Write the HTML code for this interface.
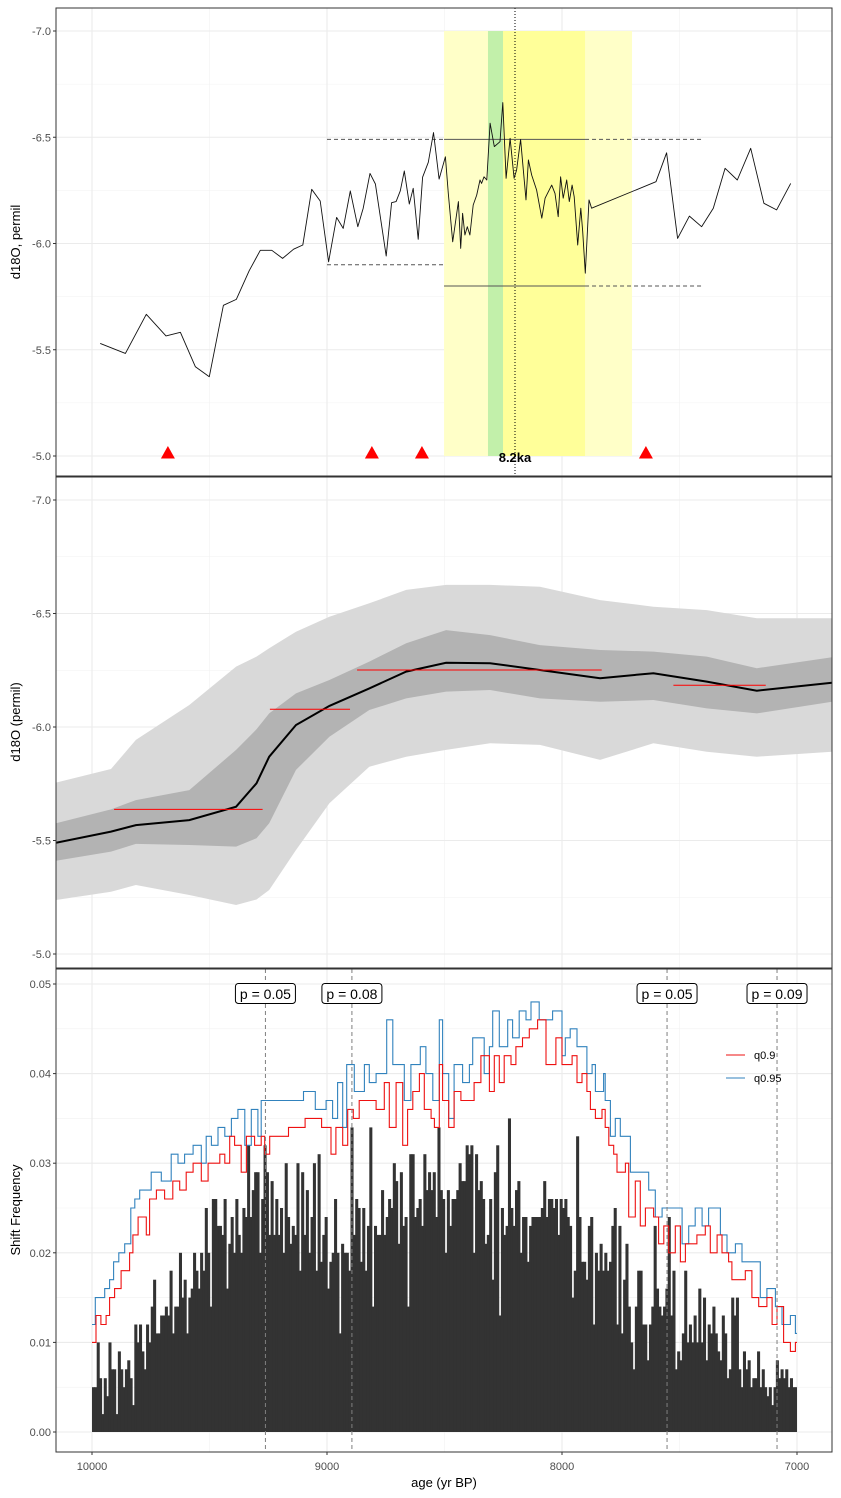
<!DOCTYPE html>
<html><head><meta charset="utf-8">
<style>
html,body{margin:0;padding:0;background:#fff;}
svg{display:block;font-family:"Liberation Sans",Arial,sans-serif;}
</style></head>
<body>
<svg id="chart" width="841" height="1498" viewBox="0 0 841 1498" xmlns="http://www.w3.org/2000/svg"></svg>
<script>
// ---------- data ----------
const p1Age = [9965,9858,9769,9685,9624,9560,9501,9441,9386,9331,9284,9235,9189,9142,9103,9065,9029,8993,8959,8931,8901,8869,8846,8817,8794,8748,8725,8706,8688,8671,8650,8633,8612,8593,8569,8547,8523,8496,8484,8465,8441,8431,8423,8413,8403,8392,8378,8363,8349,8342,8332,8320,8306,8288,8264,8252,8238,8221,8204,8193,8176,8153,8143,8129,8108,8086,8072,8044,8030,8016,8006,7995,7980,7969,7957,7948,7933,7920,7912,7901,7885,7874,7600,7555,7508,7458,7406,7356,7306,7254,7197,7141,7087,7027];
const p1Val = [-5.530,-5.483,-5.667,-5.565,-5.582,-5.420,-5.373,-5.709,-5.737,-5.872,-5.968,-5.968,-5.930,-5.973,-5.993,-6.255,-6.200,-5.914,-6.123,-6.071,-6.247,-6.079,-6.166,-6.330,-6.280,-5.941,-6.192,-6.197,-6.248,-6.341,-6.186,-6.260,-6.020,-6.312,-6.382,-6.522,-6.303,-6.408,-6.236,-6.008,-6.197,-5.977,-6.142,-6.040,-6.079,-6.040,-6.181,-6.228,-6.299,-6.283,-6.314,-6.299,-6.566,-6.456,-6.479,-6.663,-6.307,-6.495,-6.307,-6.346,-6.490,-6.205,-6.393,-6.322,-6.252,-6.119,-6.213,-6.275,-6.236,-6.126,-6.314,-6.213,-6.299,-6.197,-6.275,-6.220,-5.993,-6.166,-6.056,-5.860,-6.205,-6.166,-6.291,-6.427,-6.024,-6.129,-6.079,-6.166,-6.354,-6.299,-6.448,-6.189,-6.158,-6.283];
const eventAges = [9677,8809,8596,7643];
const p2Age = [10153,9919,9813,9586,9387,9300,9246,9132,8990,8820,8663,8493,8306,8094,7838,7611,7384,7171,6851];
const p2LightHi = [-5.755,-5.815,-5.943,-6.097,-6.266,-6.310,-6.347,-6.420,-6.486,-6.545,-6.604,-6.626,-6.626,-6.618,-6.559,-6.530,-6.515,-6.479,-6.479];
const p2DarkHi = [-5.576,-5.637,-5.678,-5.722,-5.899,-5.990,-6.060,-6.148,-6.207,-6.288,-6.369,-6.427,-6.405,-6.361,-6.339,-6.332,-6.310,-6.259,-6.307];
const p2Median = [-5.490,-5.539,-5.568,-5.590,-5.649,-5.752,-5.869,-6.009,-6.093,-6.170,-6.244,-6.283,-6.281,-6.251,-6.215,-6.237,-6.200,-6.160,-6.195];
const p2DarkLo = [-5.411,-5.451,-5.485,-5.480,-5.473,-5.510,-5.576,-5.811,-5.957,-6.075,-6.126,-6.156,-6.163,-6.126,-6.111,-6.119,-6.082,-6.060,-6.111];
const p2LightLo = [-5.238,-5.274,-5.304,-5.260,-5.216,-5.240,-5.282,-5.458,-5.664,-5.825,-5.869,-5.899,-5.928,-5.921,-5.855,-5.928,-5.891,-5.869,-5.891];
const segStart = [9906,9243,8872,7526];
const segEnd = [9274,8902,7831,7133];
const segVal = [-5.637,-6.078,-6.251,-6.184];
const shiftCounts = [5,5,10,6,2,6,4,10,7,7, 2,9,7,5,7,8,6,3,12,10, 12,9,7,12,10,14,17,11,11,13, 13,14,13,18,11,14,14,20,15,17, 11,15,16,20,18,16,20,18,25,20, 14,26,26,23,23,22,26,16,21,24, 20,26,22,20,25,24,32,24,27,29, 29,20,26,32,29,22,28,22,26,22, 25,20,30,24,21,23,22,30,18,29, 22,27,20,24,30,18,31,19,22,24, 16,19,20,26,20,11,21,20,20,18, 34,22,26,25,19,25,18,23,34,14, 23,22,22,27,22,24,26,25,30,28, 21,29,23,24,14,31,31,24,25,26, 23,31,27,29,27,29,24,34,27,26, 20,27,23,26,26,27,30,28,28,32, 31,32,20,31,27,28,26,21,22,26, 17,29,32,13,25,22,23,35,25,23, 27,28,20,24,24,19,23,24,24,24, 24,25,28,24,26,26,25,26,22,26, 25,26,24,23,15,18,33,24,19,19, 17,23,24,12,20,18,21,18,20,18, 19,23,25,12,23,11,17,21,14,10, 7,14,18,18,12,12,8,12,14,23, 16,14,13,14,16,24,13,18,7,9, 8,11,18,10,12,10,13,10,16,10, 15,8,12,11,14,11,9,8,13,11, 6,7,15,13,15,7,5,9,7,8, 5,6,6,9,5,7,5,4,5,3, 5,8,6,7,6,7,5,6,5,5];
const q95Age = [10000,9986,9946,9925,9908,9886,9861,9835,9818,9797,9748,9705,9663,9634,9606,9570,9535,9514,9492,9464,9435,9407,9379,9350,9322,9294,9280,9200,9100,9050,9004,8976,8955,8933,8916,8884,8841,8820,8791,8746,8720,8671,8643,8603,8579,8550,8522,8508,8482,8459,8423,8394,8380,8331,8309,8295,8267,8231,8210,8182,8153,8132,8097,8040,8000,7986,7965,7936,7908,7894,7872,7858,7823,7816,7794,7773,7752,7730,7709,7674,7652,7631,7603,7574,7546,7511,7489,7461,7433,7404,7376,7348,7326,7298,7262,7234,7206,7177,7156,7128,7092,7064,7028,7007];
const q95Cnt = [12,15,16,17,19,20,21,25,26,27,29,28,31,30,31,32,30,33,32,34,33,35,36,32,36,33,37,37,38,36,37,35,39,34,41,38,41,39,40,46,41,37,41,43,40,37,46,40,35,41,39,41,44,40,43,47,43,46,44,47,46,48,46,47,42,44,45,43,43,40,41,38,40,37,33,35,33,33,29,29,29,27,24,25,25,25,21,23,25,23,25,25,22,20,21,19,19,19,15,16,14,12,13,11];
const q90Age = [10000,9983,9962,9940,9925,9904,9876,9840,9826,9804,9769,9755,9726,9691,9656,9627,9599,9570,9535,9506,9456,9435,9414,9393,9365,9343,9308,9280,9265,9244,9164,9093,9023,8983,8962,8933,8912,8888,8863,8791,8756,8735,8706,8678,8657,8635,8607,8586,8557,8543,8522,8508,8482,8459,8430,8374,8345,8309,8288,8267,8246,8217,8196,8168,8139,8104,8068,8026,8000,7957,7936,7915,7894,7879,7858,7830,7816,7801,7780,7766,7730,7716,7688,7667,7645,7610,7589,7567,7546,7518,7496,7475,7454,7426,7390,7369,7340,7319,7291,7277,7255,7220,7192,7163,7128,7106,7085,7057,7028,7007];
const q90Cnt = [10,13,12,13,15,16,18,20,22,24,22,26,27,26,28,27,29,30,28,30,31,30,33,32,29,33,32,33,31,33,34,35,34,31,34,32,36,35,37,36,39,34,39,32,36,38,40,36,35,34,41,37,34,38,37,39,42,38,42,39,42,41,43,44,45,46,41,44,41,42,39,40,38,36,35,36,34,32,31,29,30,24,28,23,25,24,21,23,20,23,19,21,21,22,23,20,22,20,19,17,17,18,15,14,15,12,14,10,9,10];
const pLineAges = [9262,8894,7553,7085];
const pLabels = ["p = 0.05","p = 0.08","p = 0.05","p = 0.09"];
const xTickAges = [10000,9000,8000,7000];
const xTickLabels = ["10000","9000","8000","7000"];
const p1Ticks = [-7.0,-6.5,-6.0,-5.5,-5.0];
const p3Ticks = [0,0.01,0.02,0.03,0.04,0.05];
const p3TickLabels = ["0.00","0.01","0.02","0.03","0.04","0.05"];

const L=56, R=832;
const xS = a => 92 + (10000 - a) * 0.235;
const y1 = v => 31 + (v + 7) * 212.5;
const y2 = v => 500 + (v + 7) * 227;
const y3 = f => 1432 - f * 8960;
const P1={t:8,b:476}, P2={t:477,b:968}, P3={t:969,b:1452};

const svg=document.getElementById('chart');
const NS='http://www.w3.org/2000/svg';
function mk(tag, attrs, parent){
  const e=document.createElementNS(NS,tag);
  for(const k in attrs) e.setAttribute(k,attrs[k]);
  (parent||svg).appendChild(e);
  return e;
}
const defs=mk('defs',{});
[[P1,'c1'],[P2,'c2'],[P3,'c3']].forEach(([p,id])=>{
  const cp=mk('clipPath',{id:id},defs);
  mk('rect',{x:L,y:p.t,width:R-L,height:p.b-p.t},cp);
});

function grid(p, g, yMajor, yMinor, yf){
  const gg=mk('g',{},g);
  
  
  yMinor.forEach(v=>{const y=yf(v); if(y>p.t&&y<p.b) mk('line',{x1:L,x2:R,y1:y,y2:y,stroke:'#f2f2f2','stroke-width':0.6},gg);});
  [9500,8500,7500].forEach(a=>mk('line',{x1:xS(a),x2:xS(a),y1:p.t,y2:p.b,stroke:'#f2f2f2','stroke-width':0.6},gg));
  yMajor.forEach(v=>{const y=yf(v); mk('line',{x1:L,x2:R,y1:y,y2:y,stroke:'#ebebeb','stroke-width':1.1},gg);});
  xTickAges.forEach(a=>mk('line',{x1:xS(a),x2:xS(a),y1:p.t,y2:p.b,stroke:'#ebebeb','stroke-width':1.1},gg));
}
function yAxis(p, g, vals, labels, yf){
  vals.forEach((v,i)=>{
    const y=yf(v);
    mk('line',{x1:L-3,x2:L,y1:y,y2:y,stroke:'#333','stroke-width':1},g);
    const t=mk('text',{x:L-5,y:y+4,'text-anchor':'end','font-size':11,fill:'#4d4d4d'},g);
    t.textContent=labels[i];
    
    
  });
}
function yTitle(g, txt, cy, name){
  const t=mk('text',{x:0,y:0,transform:`translate(20,${cy}) rotate(-90)`,'text-anchor':'middle','font-size':13,fill:'#000'},g);
  t.textContent=txt;
  
  
}
function frame(p,g){
  const r=mk('rect',{x:L,y:p.t,width:R-L,height:p.b-p.t,fill:'none',stroke:'#333','stroke-width':1},g);
  
  
}

// ===== Panel 1 =====
const g1=mk('g',{});


grid(P1,g1,p1Ticks,[-6.75,-6.25,-5.75,-5.25],y1);
const band=mk('g',{'clip-path':'url(#c1)'},g1);


const bw=[[8502,7702,'#ffffc8','outer-window'],[8251,7902,'#ffff99','core-window'],[8315,8251,'#c2f0aa','onset-window']];
bw.forEach(b=>{
  const r=mk('rect',{x:xS(b[0]),y:y1(-7),width:xS(b[1])-xS(b[0]),height:y1(-5)-y1(-7),fill:b[2]},band);
  
  
});
const refs=[[9000,8502,-6.49,true],[8502,7902,-6.49,false],[7902,7403,-6.49,true],[9000,8502,-5.90,true],[8502,7902,-5.80,false],[7902,7403,-5.80,true]];
refs.forEach(r=>{
  const l=mk('line',{x1:xS(r[0]),x2:xS(r[1]),y1:y1(r[2]),y2:y1(r[2]),stroke:'#555','stroke-width':1,'stroke-dasharray':r[3]?'4,3':'none'},g1);
  
  
});
const vl=mk('line',{x1:xS(8200),x2:xS(8200),y1:P1.t,y2:P1.b,stroke:'#000','stroke-width':1,'stroke-dasharray':'1,2'},g1);


const rec=mk('path',{d:p1Age.map((a,i)=>(i?'L':'M')+xS(a).toFixed(1)+','+y1(p1Val[i]).toFixed(1)).join(''),fill:'none',stroke:'#111','stroke-width':0.9,'stroke-linejoin':'round'},g1);


eventAges.forEach(a=>{
  const x=xS(a), y=y1(-5);
  const t=mk('polygon',{points:`${x-7},${y+2.5} ${x+7},${y+2.5} ${x},${y-10}`,fill:'#ff0000'},g1);
  
  
});
const lab=mk('text',{x:xS(8200),y:462,'text-anchor':'middle','font-size':13,'font-weight':'bold',fill:'#000'},g1);
lab.textContent='8.2ka';


yAxis(P1,g1,p1Ticks,['-7.0','-6.5','-6.0','-5.5','-5.0'],y1);
yTitle(g1,'d18O, permil',242,'y-axis-title-record');
frame(P1,g1);

// ===== Panel 2 =====
const g2=mk('g',{});


grid(P2,g2,p1Ticks,[-6.75,-6.25,-5.75,-5.25],y2);
const bg2=mk('g',{'clip-path':'url(#c2)'},g2);
function bandPath(hi,lo){
  let d=p2Age.map((a,i)=>(i?'L':'M')+xS(a).toFixed(1)+','+y2(hi[i]).toFixed(1)).join('');
  for(let i=p2Age.length-1;i>=0;i--) d+='L'+xS(p2Age[i]).toFixed(1)+','+y2(lo[i]).toFixed(1);
  return d+'Z';
}
const lb=mk('path',{d:bandPath(p2LightHi,p2LightLo),fill:'#d9d9d9'},bg2);


const db=mk('path',{d:bandPath(p2DarkHi,p2DarkLo),fill:'#b3b3b3'},bg2);


const md=mk('path',{d:p2Age.map((a,i)=>(i?'L':'M')+xS(a).toFixed(1)+','+y2(p2Median[i]).toFixed(1)).join(''),fill:'none',stroke:'#000','stroke-width':2},bg2);


segStart.forEach((s,i)=>{
  const l=mk('line',{x1:xS(s),x2:xS(segEnd[i]),y1:y2(segVal[i]),y2:y2(segVal[i]),stroke:'#ff0000','stroke-width':1},bg2);
  
  
});
yAxis(P2,g2,p1Ticks,['-7.0','-6.5','-6.0','-5.5','-5.0'],y2);
yTitle(g2,'d18O (permil)',722,'y-axis-title-ensemble');
frame(P2,g2);

// ===== Panel 3 =====
const g3=mk('g',{});


grid(P3,g3,p3Ticks,[0.005,0.015,0.025,0.035,0.045],y3);
const bars=mk('g',{},g3);


shiftCounts.forEach((c,i)=>{
  const f=c*0.001;
  const x0=xS(10000-10*i), x1=xS(10000-10*(i+1));
  const w = (i===shiftCounts.length-1) ? (x1-x0) : (x1-x0+0.7);
  const r=mk('rect',{x:x0.toFixed(2),y:y3(f).toFixed(1),width:w.toFixed(2),height:(y3(0)-y3(f)).toFixed(1),fill:'#333333'},bars);
  
  
});
function stepPath(ages,cnts){
  let d='M'+xS(ages[0]).toFixed(1)+','+y3(cnts[0]*0.001).toFixed(1);
  for(let i=1;i<ages.length;i++){
    d+='H'+xS(ages[i]).toFixed(1)+'V'+y3(cnts[i]*0.001).toFixed(1);
  }
  return d+'H'+xS(7000).toFixed(1);
}
const q95=mk('path',{d:stepPath(q95Age,q95Cnt),fill:'none',stroke:'#3182bd','stroke-width':1.1},g3);


const q90=mk('path',{d:stepPath(q90Age,q90Cnt),fill:'none',stroke:'#ee1111','stroke-width':1.1},g3);


pLineAges.forEach((a,i)=>{
  const x=xS(a);
  const l=mk('line',{x1:x,x2:x,y1:P3.t,y2:P3.b,stroke:'#7f7f7f','stroke-width':1,'stroke-dasharray':'4,3'},g3);
  
  
  const r=mk('rect',{x:x-30,y:983.5,width:60,height:20,rx:3,fill:'#fff',stroke:'#000','stroke-width':1},g3);
  
  
  const t=mk('text',{x:x,y:999,'text-anchor':'middle','font-size':14,fill:'#000'},g3);
  t.textContent=pLabels[i];
  
  
});
const lg=mk('g',{},g3);


[['q0.9','#ee1111',1055],['q0.95','#3182bd',1078]].forEach(e=>{
  const l=mk('line',{x1:726,x2:745,y1:e[2],y2:e[2],stroke:e[1],'stroke-width':1},lg);
  
  
  const t=mk('text',{x:754,y:e[2]+4,'font-size':11,fill:'#000'},lg);
  t.textContent=e[0];
  
  
});
yAxis(P3,g3,p3Ticks,p3TickLabels,y3);
yTitle(g3,'Shift Frequency',1210,'y-axis-title-frequency');
frame(P3,g3);
xTickAges.forEach((a,i)=>{
  const x=xS(a);
  mk('line',{x1:x,x2:x,y1:P3.b,y2:P3.b+3,stroke:'#333','stroke-width':1},g3);
  const t=mk('text',{x:x,y:1470,'text-anchor':'middle','font-size':11,fill:'#4d4d4d'},g3);
  t.textContent=xTickLabels[i];
  
  
});
const xt=mk('text',{x:444,y:1487,'text-anchor':'middle','font-size':13,fill:'#000'},g3);
xt.textContent='age (yr BP)';


</script>
</body></html>
